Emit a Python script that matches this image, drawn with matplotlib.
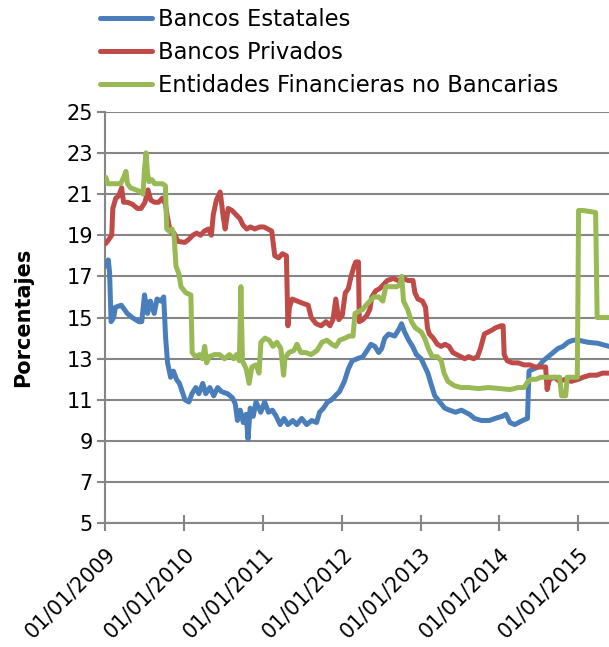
import matplotlib

matplotlib.use("Agg")
import matplotlib.dates as mdates
import matplotlib.pyplot as plt
import pandas as pd

# ---- data ----
est_dates = [
    "2009-01-08", "2009-01-14", "2009-01-20", "2009-01-27", "2009-02-08", "2009-02-16",
    "2009-03-15", "2009-04-12", "2009-05-05", "2009-06-05", "2009-06-18", "2009-07-01",
    "2009-07-15", "2009-07-28", "2009-08-15", "2009-08-28", "2009-09-15", "2009-09-28",
    "2009-10-07", "2009-10-16", "2009-10-30", "2009-11-12", "2009-11-26", "2009-12-10",
    "2010-01-05", "2010-01-23", "2010-02-06", "2010-02-24", "2010-03-10", "2010-03-28",
    "2010-04-11", "2010-04-30", "2010-05-18", "2010-06-05", "2010-06-23", "2010-07-21",
    "2010-08-13", "2010-08-26", "2010-09-05", "2010-09-18", "2010-10-02", "2010-10-15",
    "2010-10-24", "2010-11-03", "2010-11-17", "2010-11-30", "2010-12-22", "2011-01-09",
    "2011-01-27", "2011-02-14", "2011-03-04", "2011-03-22", "2011-04-09", "2011-04-27",
    "2011-05-20", "2011-06-07", "2011-06-30", "2011-07-23", "2011-08-15", "2011-09-07",
    "2011-09-21", "2011-10-09", "2011-10-28", "2011-11-15", "2011-12-03", "2011-12-22",
    "2012-01-14", "2012-02-01", "2012-02-19", "2012-03-13", "2012-04-09", "2012-04-28",
    "2012-05-16", "2012-06-03", "2012-06-21", "2012-07-05", "2012-07-19", "2012-08-06",
    "2012-09-03", "2012-09-21", "2012-10-05", "2012-10-19", "2012-11-07", "2012-11-25",
    "2012-12-13", "2013-01-04", "2013-01-17", "2013-02-04", "2013-02-18", "2013-03-08",
    "2013-03-31", "2013-04-23", "2013-05-16", "2013-06-12", "2013-07-10", "2013-07-28",
    "2013-08-16", "2013-09-08", "2013-10-10", "2013-11-16", "2013-12-13", "2014-01-14",
    "2014-02-01", "2014-02-20", "2014-03-14", "2014-04-01", "2014-04-19", "2014-05-12",
    "2014-05-19", "2014-06-08", "2014-07-01", "2014-07-24", "2014-08-16", "2014-09-08",
    "2014-10-01", "2014-10-24", "2014-11-16", "2014-12-09", "2015-01-02", "2015-02-16",
    "2015-04-03", "2015-05-25",
]
est_vals = [
    17.5, 17.8, 17.2, 14.8, 15.0, 15.5,
    15.6, 15.2, 15.0, 14.8, 14.8, 16.1,
    15.2, 15.8, 15.2, 15.9, 15.8, 16.0,
    14.0, 12.8, 12.1, 12.4, 12.0, 11.8,
    11.0, 10.9, 11.3, 11.6, 11.3, 11.8,
    11.3, 11.6, 11.2, 11.6, 11.4, 11.3,
    11.1, 10.8, 10.0, 10.5, 9.9, 10.3,
    9.1, 10.6, 10.2, 10.9, 10.4, 10.9,
    10.4, 10.5, 10.2, 9.8, 10.1, 9.8,
    10.0, 9.8, 10.1, 9.8, 10.0, 9.9,
    10.4, 10.6, 10.9, 11.0, 11.2, 11.4,
    11.9, 12.5, 12.9, 13.0, 13.1, 13.4,
    13.7, 13.6, 13.3, 13.5, 14.0, 14.2,
    14.1, 14.4, 14.7, 14.3, 13.9, 13.6,
    13.2, 13.0, 12.7, 12.3, 11.8, 11.2,
    10.9, 10.6, 10.5, 10.4, 10.5, 10.4,
    10.3, 10.1, 10.0, 10.0, 10.1, 10.2,
    10.3, 9.9, 9.8, 9.9, 10.0, 10.1,
    12.4, 12.5, 12.6, 12.9, 13.1, 13.3,
    13.5, 13.6, 13.8, 13.9, 13.9, 13.8,
    13.75, 13.6,
]

priv_dates = [
    "2009-01-03", "2009-01-17", "2009-01-30", "2009-02-04", "2009-02-18", "2009-03-03",
    "2009-03-17", "2009-03-26", "2009-04-13", "2009-05-06", "2009-05-29", "2009-06-15",
    "2009-07-03", "2009-07-17", "2009-07-30", "2009-08-17", "2009-09-04", "2009-09-22",
    "2009-10-06", "2009-10-15", "2009-10-28", "2009-11-15", "2009-12-03", "2010-01-04",
    "2010-01-23", "2010-02-10", "2010-02-28", "2010-03-18", "2010-04-05", "2010-04-23",
    "2010-05-07", "2010-05-16", "2010-05-30", "2010-06-17", "2010-07-01", "2010-07-10",
    "2010-07-24", "2010-08-11", "2010-08-29", "2010-09-17", "2010-09-30", "2010-10-18",
    "2010-11-05", "2010-11-24", "2010-12-17", "2011-01-06", "2011-01-24", "2011-02-11",
    "2011-02-25", "2011-03-15", "2011-04-02", "2011-04-20", "2011-04-27", "2011-05-04",
    "2011-05-17", "2011-06-10", "2011-07-03", "2011-07-30", "2011-08-13", "2011-09-05",
    "2011-09-28", "2011-10-21", "2011-11-08", "2011-11-22", "2011-12-05", "2011-12-19",
    "2012-01-04", "2012-01-18", "2012-02-01", "2012-02-14", "2012-02-28", "2012-03-07",
    "2012-03-19", "2012-03-23", "2012-04-09", "2012-04-27", "2012-05-11", "2012-05-20",
    "2012-06-07", "2012-06-25", "2012-07-13", "2012-07-31", "2012-08-28", "2012-09-19",
    "2012-10-12", "2012-11-04", "2012-11-27", "2012-12-06", "2012-12-20", "2013-01-10",
    "2013-01-24", "2013-02-02", "2013-02-11", "2013-03-01", "2013-03-20", "2013-04-07",
    "2013-04-25", "2013-05-13", "2013-05-31", "2013-06-18", "2013-07-06", "2013-07-25",
    "2013-08-12", "2013-09-04", "2013-09-22", "2013-10-06", "2013-10-24", "2013-11-12",
    "2013-11-30", "2013-12-14", "2014-01-10", "2014-01-19", "2014-01-24", "2014-02-07",
    "2014-03-02", "2014-03-30", "2014-04-26", "2014-05-23", "2014-06-15", "2014-08-04",
    "2014-08-11", "2014-08-22", "2014-09-14", "2014-10-07", "2014-11-04", "2014-12-01",
    "2015-01-02", "2015-01-25", "2015-02-25", "2015-03-29", "2015-04-25", "2015-05-25",
]
priv_vals = [
    18.6, 18.8, 19.0, 20.3, 20.8, 20.9,
    21.3, 20.6, 20.6, 20.5, 20.3, 20.3,
    20.6, 21.2, 20.7, 20.6, 20.6, 20.8,
    20.5, 19.9, 19.2, 19.1, 18.7, 18.65,
    18.8, 19.0, 19.1, 19.0, 19.2, 19.3,
    19.0, 20.0, 20.7, 21.1, 19.9, 19.3,
    20.3, 20.2, 20.0, 19.8, 19.5, 19.3,
    19.4, 19.3, 19.4, 19.4, 19.3, 19.2,
    18.0, 17.9, 18.1, 18.0, 14.6, 15.5,
    15.9, 15.8, 15.7, 15.6, 15.0, 14.7,
    14.6, 14.8, 14.6, 14.9, 15.9, 14.9,
    15.1, 16.2, 16.4, 17.0, 17.5, 17.7,
    17.7, 14.8, 14.9, 15.1, 15.4, 16.0,
    16.3, 16.4, 16.6, 16.8, 16.9, 16.8,
    16.9, 16.8, 16.8, 16.2, 15.9, 15.8,
    15.5, 14.5, 14.2, 14.0, 13.7, 13.6,
    13.7, 13.6, 13.3, 13.2, 13.1, 13.0,
    13.1, 13.0, 13.1, 13.5, 14.2, 14.3,
    14.4, 14.5, 14.6, 14.6, 13.2, 12.9,
    12.8, 12.8, 12.7, 12.7, 12.6, 12.6,
    11.5, 12.0, 12.1, 11.9, 12.0, 11.9,
    12.0, 12.1, 12.2, 12.2, 12.3, 12.3,
]

nob_dates = [
    "2009-01-03", "2009-01-12", "2009-02-12", "2009-03-12", "2009-03-26", "2009-04-06",
    "2009-04-13", "2009-04-27", "2009-05-23", "2009-06-15", "2009-06-24", "2009-07-01",
    "2009-07-08", "2009-07-15", "2009-07-22", "2009-08-04", "2009-08-17", "2009-09-04",
    "2009-09-22", "2009-10-06", "2009-10-12", "2009-10-23", "2009-11-06", "2009-11-15",
    "2009-11-24", "2009-12-08", "2009-12-17", "2010-01-09", "2010-02-01", "2010-02-07",
    "2010-02-23", "2010-03-13", "2010-03-27", "2010-04-06", "2010-04-15", "2010-04-28",
    "2010-05-21", "2010-06-14", "2010-07-07", "2010-07-30", "2010-08-18", "2010-08-31",
    "2010-09-14", "2010-09-21", "2010-09-28", "2010-10-16", "2010-10-29", "2010-11-11",
    "2010-11-30", "2010-12-14", "2010-12-23", "2011-01-11", "2011-01-30", "2011-02-17",
    "2011-03-07", "2011-03-25", "2011-04-07", "2011-04-13", "2011-05-01", "2011-05-25",
    "2011-06-08", "2011-06-26", "2011-07-19", "2011-08-12", "2011-09-09", "2011-10-02",
    "2011-10-25", "2011-11-17", "2011-12-05", "2011-12-23", "2012-01-17", "2012-02-05",
    "2012-02-23", "2012-03-03", "2012-03-21", "2012-04-09", "2012-04-23", "2012-05-11",
    "2012-05-29", "2012-06-21", "2012-07-10", "2012-07-24", "2012-08-21", "2012-09-14",
    "2012-09-28", "2012-10-06", "2012-10-14", "2012-11-02", "2012-11-20", "2012-12-08",
    "2013-01-04", "2013-01-20", "2013-02-06", "2013-02-24", "2013-03-20", "2013-04-07",
    "2013-04-20", "2013-05-08", "2013-06-05", "2013-07-07", "2013-08-12", "2013-09-27",
    "2013-11-12", "2014-01-05", "2014-02-20", "2014-03-30", "2014-04-26", "2014-05-14",
    "2014-05-28", "2014-06-20", "2014-07-13", "2014-08-14", "2014-09-16", "2014-10-08",
    "2014-10-17", "2014-11-05", "2014-11-12", "2014-12-03", "2014-12-29", "2015-01-04",
    "2015-01-25", "2015-02-26", "2015-03-24", "2015-03-31", "2015-04-25", "2015-05-25",
]
nob_vals = [
    21.8, 21.5, 21.5, 21.5, 21.8, 22.1,
    21.5, 21.3, 21.2, 21.1, 21.0, 22.2,
    23.0, 22.0, 21.6, 21.7, 21.5, 21.5,
    21.5, 21.4, 19.3, 19.2, 19.3, 19.0,
    17.5, 17.1, 16.5, 16.2, 16.1, 13.3,
    13.1, 13.2, 13.0, 13.6, 12.8, 13.1,
    13.2, 13.2, 13.0, 13.2, 13.0, 13.2,
    12.9, 16.5, 12.9, 12.5, 11.8, 12.6,
    12.7, 12.3, 13.8, 14.0, 13.9, 13.6,
    13.8, 13.5, 12.2, 13.0, 13.3, 13.4,
    13.7, 13.3, 13.3, 13.2, 13.4, 13.8,
    13.9, 13.7, 13.6, 13.9, 14.0, 14.1,
    14.1, 15.2, 15.3, 15.4, 15.6, 15.8,
    16.0, 16.0, 15.8, 16.5, 16.5, 16.5,
    16.6, 17.0, 15.8, 15.4, 14.8, 14.5,
    14.3, 14.0, 13.5, 13.1, 13.1, 12.9,
    12.3, 11.9, 11.7, 11.6, 11.6, 11.55,
    11.6, 11.55, 11.5, 11.6, 11.6, 11.9,
    12.0, 12.0, 12.1, 12.1, 12.1, 12.1,
    11.2, 11.2, 12.1, 12.1, 12.1, 20.2,
    20.2, 20.15, 20.1, 15.0, 15.0, 15.0,
]

series_labels = ["Bancos Estatales", "Bancos Privados", "Entidades Financieras no Bancarias"]
series_colors = ["#4A7EBB", "#BE4B48", "#98B954"]
year_ticks = [f"{y}-01-01" for y in range(2009, 2016)]
y_ticks = list(range(5, 26, 2))

GRID = "#868686"
plt.rcParams["font.family"] = ["DejaVu Sans"]

fig = plt.figure(figsize=(6.09, 6.47), dpi=100)
ax = fig.add_axes([0.1732, 0.191, 0.8268, 0.6364])

handles = []
for d, v, lab, col in zip([est_dates, priv_dates, nob_dates], [est_vals, priv_vals, nob_vals],
                          series_labels, series_colors):
    h, = ax.plot(pd.to_datetime(d), v, color=col, lw=3.6, solid_joinstyle="round",
                 solid_capstyle="round", label=lab, zorder=3)
    handles.append(h)

ax.set_ylim(5, 25)
ax.set_yticks(y_ticks)
ax.set_xlim(pd.Timestamp("2009-01-01"), pd.Timestamp("2015-05-25"))
ax.set_xticks(pd.to_datetime(year_ticks))
ax.xaxis.set_major_formatter(mdates.DateFormatter("%d/%m/%Y"))
ax.grid(axis="y", color=GRID, lw=1.5, zorder=0)
ax.set_axisbelow(True)

for s in ("top", "right"):
    ax.spines[s].set_visible(False)
for s in ("left", "bottom"):
    ax.spines[s].set_color(GRID)
    ax.spines[s].set_linewidth(1.5)

ax.tick_params(axis="y", direction="out", length=6, width=1.5, color=GRID, labelsize=15, pad=3)
ax.tick_params(axis="x", direction="inout", length=11, width=1.5, color=GRID, labelsize=14.8, pad=9)
for lbl in ax.get_xticklabels():
    lbl.set_rotation(45)
    lbl.set_ha("right")
    lbl.set_va("top")
    lbl.set_rotation_mode("anchor")

ax.set_ylabel("Porcentajes", fontsize=15, fontweight="bold", labelpad=24)

fig.legend(handles=handles, loc="upper left", bbox_to_anchor=(100 / 609, 1 - 8 / 647),
           frameon=False, fontsize=16.3, handlelength=2.3, handletextpad=0.25,
           labelspacing=0.45, borderpad=0, borderaxespad=0)

fig.savefig("out.png", dpi=100)
